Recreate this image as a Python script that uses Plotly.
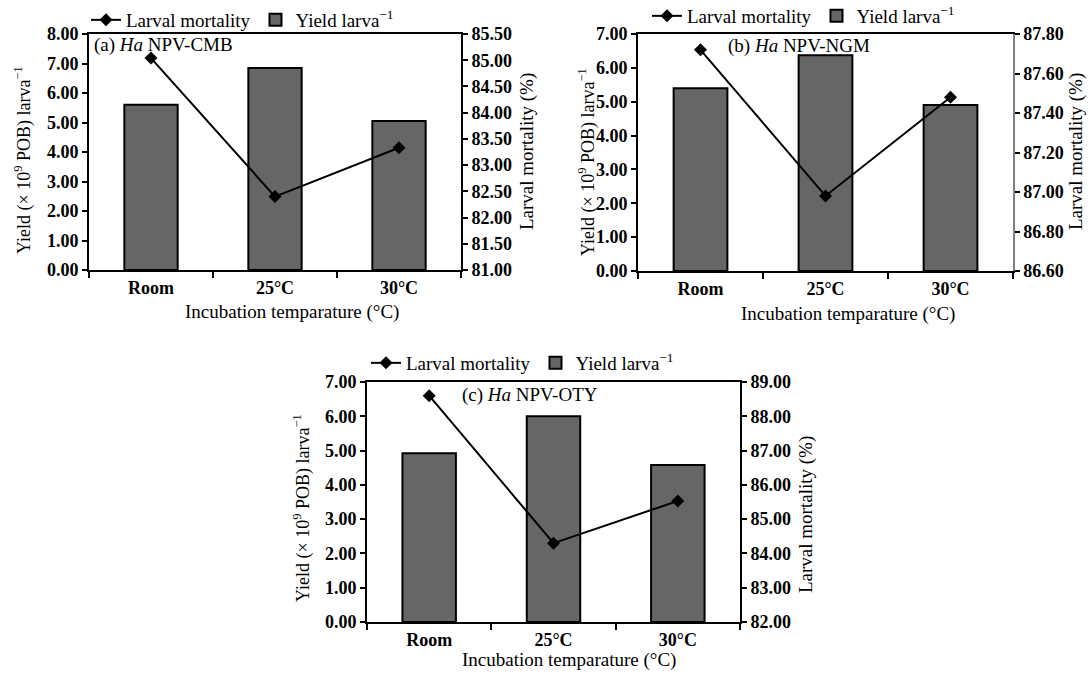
import plotly.graph_objects as go

W, H = 1091, 673

categories = ["Room", "25°C", "30°C"]

yield_a = [5.60, 6.85, 5.05]
mort_a = [85.04, 82.40, 83.33]

yield_b = [5.40, 6.37, 4.90]
mort_b = [87.72, 86.98, 87.48]

yield_c = [4.92, 6.00, 4.58]
mort_c = [88.60, 84.30, 85.53]

left_ticks_a = [0, 1, 2, 3, 4, 5, 6, 7, 8]
right_range_a = [81.0, 85.5]
left_ticks_b = [0, 1, 2, 3, 4, 5, 6, 7]
right_range_b = [86.6, 87.8]
left_ticks_c = [0, 1, 2, 3, 4, 5, 6, 7]
right_range_c = [82.0, 89.0]

panel_labels = ["(a) <i>Ha</i> NPV-CMB", "(b) <i>Ha</i> NPV-NGM", "(c) <i>Ha</i> NPV-OTY"]
x_title = "Incubation temparature (°C)"
y_title = "Yield (\u00d7 10<sup>9</sup> POB) larva<sup>\u22121</sup>"
y2_title = "Larval mortality (%)"

FONT = "Liberation Serif"
BAR_COLOR = "#666666"

# pixel boxes (left, right, top, bottom)
boxes = [(89, 461, 34, 270), (638, 1013, 34, 271), (367, 740, 382, 622)]
legend_pos = [(86, 20), (647, 16), (366, 363)]
label_pos = [(92, 45), (726, 46), (460, 395)]
xtitle_pos = [(292, 312), (848, 314), (569, 660)]
ytitle_pos = [(23, 160), (587, 162), (302, 508)]
y2title_pos = [(527, 152), (1076, 152), (806, 515)]


def px_x(p):
    return p / W


def px_y(p):
    return 1 - p / H


fig = go.Figure()

panels = [
    (yield_a, mort_a, left_ticks_a, right_range_a, 0.5),
    (yield_b, mort_b, left_ticks_b, right_range_b, 0.2),
    (yield_c, mort_c, left_ticks_c, right_range_c, 1.0),
]

layout = dict(
    width=W, height=H,
    margin=dict(l=0, r=0, t=0, b=0, autoexpand=False),
    paper_bgcolor="white", plot_bgcolor="white",
    font=dict(family=FONT, size=19, color="black"),
    showlegend=True,
    annotations=[],
)


def ann(x, y, text, angle=0, xanchor="center", size=19, weight="normal"):
    layout["annotations"].append(dict(
        x=px_x(x), y=px_y(y), xref="paper", yref="paper",
        xanchor=xanchor, yanchor="middle", showarrow=False, textangle=angle,
        text=text, font=dict(family=FONT, size=size, weight=weight, color="black"),
    ))


tickfont = dict(family=FONT, size=18, weight="bold", color="black")

for i, (yv, mv, lticks, rrange, rdt) in enumerate(panels):
    n = i + 1
    xa = "x" if n == 1 else f"x{n}"
    ya = f"y{2 * n - 1}" if n > 1 else "y"
    yb = f"y{2 * n}"
    lg = "legend" if n == 1 else f"legend{n}"

    fig.add_trace(go.Scatter(
        x=categories, y=mv, xaxis=xa, yaxis=yb, name="Larval mortality",
        mode="lines+markers", line=dict(color="black", width=2),
        marker=dict(symbol="diamond", size=10, color="black"),
        legend=lg,
    ))
    fig.add_trace(go.Bar(
        x=categories, y=yv, xaxis=xa, yaxis=ya, name="Yield larva<sup>\u22121</sup>",
        marker=dict(color=BAR_COLOR, line=dict(color="black", width=2)),
        width=0.43, legend=lg,
    ))

    l, r, t, b = boxes[i]
    xkey = "xaxis" if n == 1 else f"xaxis{n}"
    ykey = "yaxis" if n == 1 else f"yaxis{2 * n - 1}"
    y2key = f"yaxis{2 * n}"
    layout[xkey] = dict(
        domain=[px_x(l), px_x(r)], anchor=ya, type="category", automargin=False,
        range=[-0.5, 2.5], showline=True, linewidth=2, linecolor="black",
        mirror=True, ticks="outside", tickson="boundaries", ticklen=6,
        tickwidth=2, tickcolor="black", showgrid=False, tickfont=tickfont,
    )
    layout[ykey] = dict(
        domain=[px_y(b), px_y(t)], anchor=xa, range=[lticks[0], lticks[-1]],
        tickvals=lticks, tickformat=".2f", showline=True, linewidth=2,
        linecolor="black", ticks="outside", ticklen=5, tickwidth=2,
        tickcolor="black", showgrid=False, zeroline=False, automargin=False,
        tickfont=tickfont,
    )
    layout[y2key] = dict(
        overlaying=ya, side="right", anchor=xa, range=rrange, dtick=rdt,
        tick0=rrange[0], tickformat=".2f", showline=True,
        linewidth=2 if n != 2 else 1.5,
        linecolor="black" if n != 2 else "#808080", ticks="outside",
        ticklen=5, tickwidth=2, tickcolor="black", showgrid=False,
        zeroline=False, automargin=False, tickfont=tickfont,
    )
    lx, ly = legend_pos[i]
    layout[lg] = dict(
        x=px_x(lx), y=px_y(ly), xanchor="left", yanchor="middle",
        orientation="h", font=dict(family=FONT, size=19, color="black"),
        bgcolor="rgba(0,0,0,0)", itemwidth=30, tracegroupgap=0,
    )
    ax, ay = label_pos[i]
    ann(ax, ay, panel_labels[i], xanchor="left")
    ann(*xtitle_pos[i], x_title)
    ann(*ytitle_pos[i], y_title, angle=-90, size=18)
    ann(*y2title_pos[i], y2_title, angle=-90)

fig.update_layout(**layout)
fig.write_html("out.html")
